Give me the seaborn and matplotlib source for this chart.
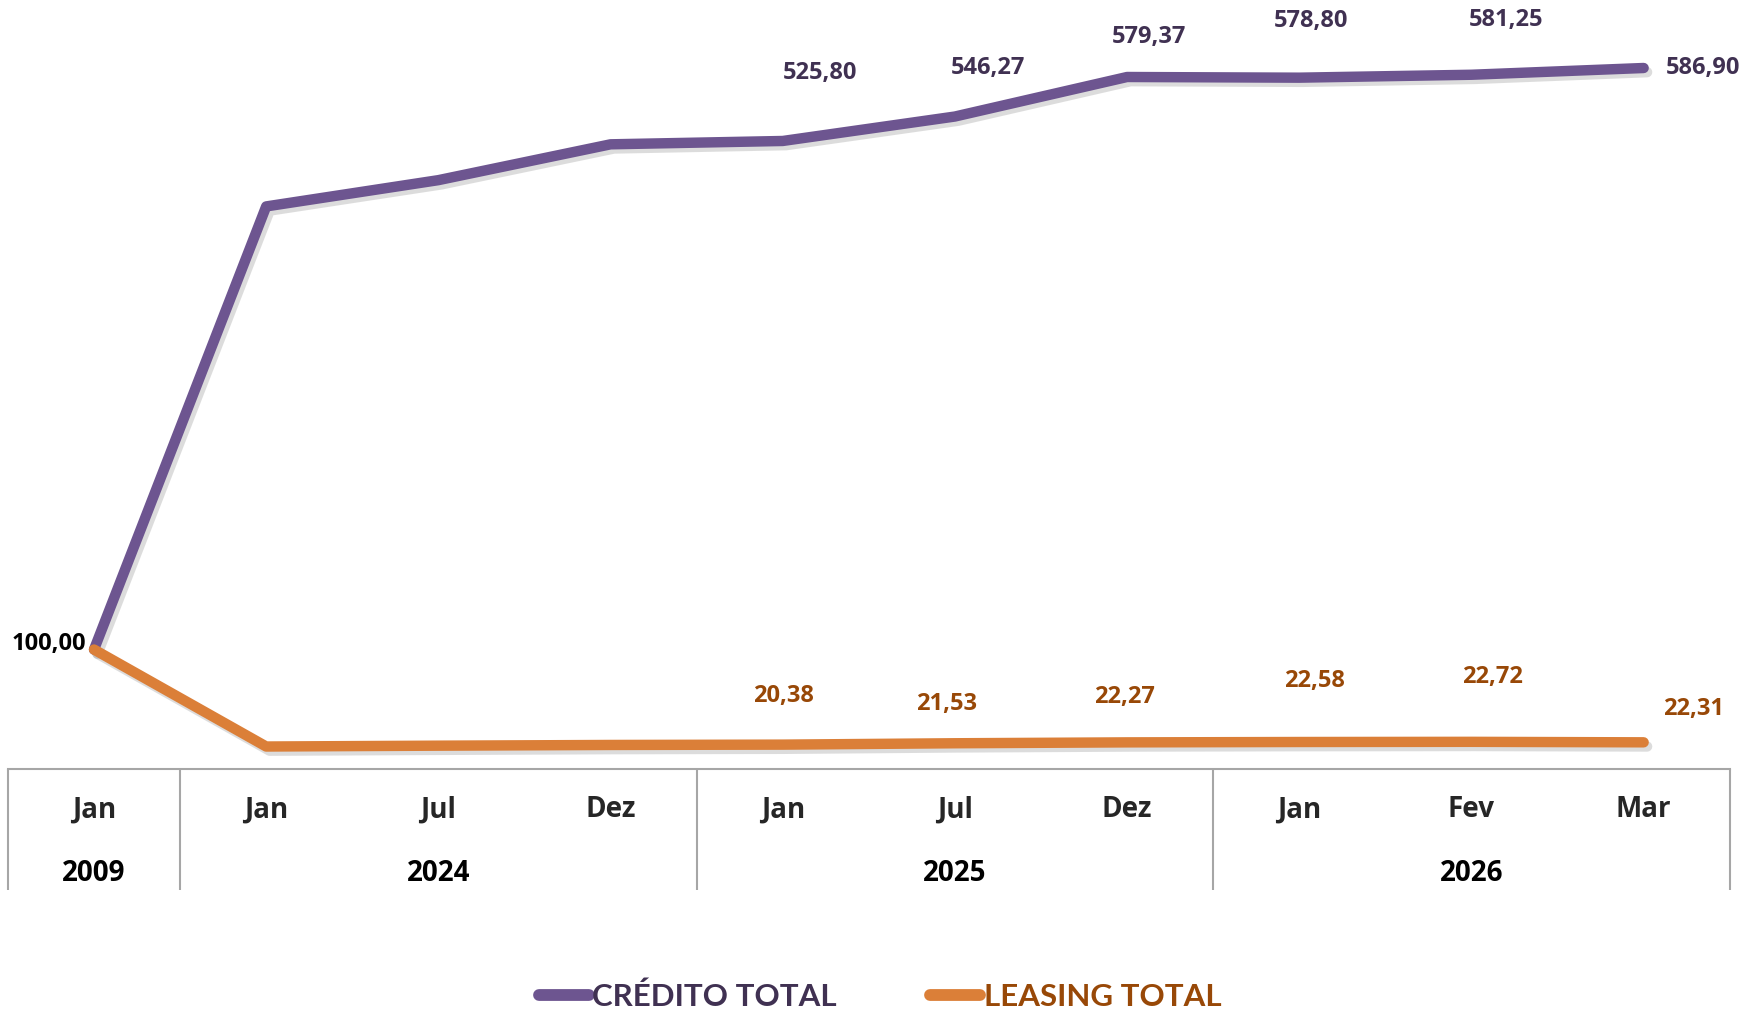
import numpy as np
import pandas as pd
import matplotlib
matplotlib.use("Agg")
import matplotlib.pyplot as plt
import matplotlib.patheffects as pe
import matplotlib.transforms as mtransforms
from matplotlib.lines import Line2D
import seaborn as sns

sns.set_style("white")
plt.rcParams['font.family'] = ['Open Sans', 'DejaVu Sans']

# dados
meses = ['Jan', 'Jan', 'Jul', 'Dez', 'Jan', 'Jul', 'Dez', 'Jan', 'Fev', 'Mar']
anos = ['2009', '2024', '2025', '2026']
pos_anos = [0, 2, 5, 8]
credito = [100.00, 471.0, 493.0, 523.0, 525.80, 546.27, 579.37, 578.80, 581.25, 586.90]
leasing = [100.00, 18.8, 19.5, 20.1, 20.38, 21.53, 22.27, 22.58, 22.72, 22.31]
rot_credito = ['100,00', None, None, None, '525,80', '546,27', '579,37', '578,80', '581,25', '586,90']
rot_leasing = [None, None, None, None, '20,38', '21,53', '22,27', '22,58', '22,72', '22,31']

# deslocamento dos rotulos (pixels)
off_credito = [(-8, 6), None, None, None, (37, 68), (33, 49), (22, 40), (12, 57), (35, 55), (22, 0)]
off_leasing = [None, None, None, None, (1, 49), (-8, 39), (-3, 45), (15, 61), (21, 65), (50, 33)]

roxo = '#6D5590'
roxo_txt = '#403152'
laranja = '#DB7F38'
laranja_txt = '#984807'

df = pd.DataFrame({
    'x': list(range(len(meses))) * 2,
    'valor': credito + leasing,
    'serie': ['CRÉDITO TOTAL'] * len(meses) + ['LEASING TOTAL'] * len(meses),
})

fig = plt.figure(figsize=(17.6, 10.13), dpi=100)
ax = fig.add_axes([0.0045, 0.2409, 0.9783, 0.731])

sns.lineplot(data=df, x='x', y='valor', hue='serie', palette=[roxo, laranja],
             ax=ax, linewidth=7.5, legend=False)
for ln in ax.lines:
    ln.set_solid_capstyle('round')
    ln.set_solid_joinstyle('round')
    ln.set_path_effects([pe.SimpleLineShadow(offset=(2.5, -3), shadow_color='#777777', alpha=0.25),
                         pe.Normal()])

ax.set_xlim(-0.5, len(meses) - 0.5)
ax.set_ylim(0, 620)
ax.set_yticks([])
ax.set_xticks(range(len(meses)))
ax.set_xticklabels(meses, fontsize=20, fontweight='bold')
ax.tick_params(axis='x', length=0, pad=19)
ax.set_xlabel('')
ax.set_ylabel('')

for s in ['top', 'right', 'left']:
    ax.spines[s].set_visible(False)
ax.spines['bottom'].set_color('#A6A6A6')
ax.spines['bottom'].set_linewidth(1.5)

trans = mtransforms.blended_transform_factory(ax.transData, ax.transAxes)
ax.vlines([-0.5, 0.5, 3.5, 6.5, 9.5], -0.1635, 0, transform=trans,
          colors='#A6A6A6', linewidth=1.5, clip_on=False)
for p, a in zip(pos_anos, anos):
    ax.text(p, -0.141, a, transform=trans, ha='center', va='center',
            fontsize=20, fontweight='bold', color='black')

# rotulos de dados
for i, (v, r, o) in enumerate(zip(credito, rot_credito, off_credito)):
    if r is None:
        continue
    if i == 0:
        ax.annotate(r, (i, v), xytext=o, textcoords='offset pixels', ha='right', va='center',
                    fontsize=17, fontweight='bold', color='black', annotation_clip=False)
    elif i == len(meses) - 1:
        ax.annotate(r, (i, v), xytext=o, textcoords='offset pixels', ha='left', va='center',
                    fontsize=17, fontweight='bold', color=roxo_txt, annotation_clip=False)
    else:
        ax.annotate(r, (i, v), xytext=o, textcoords='offset pixels', ha='center', va='center',
                    fontsize=17, fontweight='bold', color=roxo_txt, annotation_clip=False)

for i, (v, r, o) in enumerate(zip(leasing, rot_leasing, off_leasing)):
    if r is None:
        continue
    ax.annotate(r, (i, v), xytext=o, textcoords='offset pixels', ha='center', va='center',
                fontsize=17, fontweight='bold', color=laranja_txt, annotation_clip=False)

handles = [Line2D([0], [0], color=roxo, linewidth=8.5, solid_capstyle='round'),
           Line2D([0], [0], color=laranja, linewidth=8.5, solid_capstyle='round')]
fig.legend(handles, ['CRÉDITO TOTAL', 'LEASING TOTAL'], loc='center', bbox_to_anchor=(0.5, 0.016),
           ncol=2, frameon=False, handlelength=1.6, handletextpad=0.1, columnspacing=3.0,
           labelcolor=[roxo_txt, laranja_txt],
           prop={'family': ['Lato'], 'weight': 'bold', 'size': 22.5})

fig.savefig('out.png', dpi=100, facecolor='white')
